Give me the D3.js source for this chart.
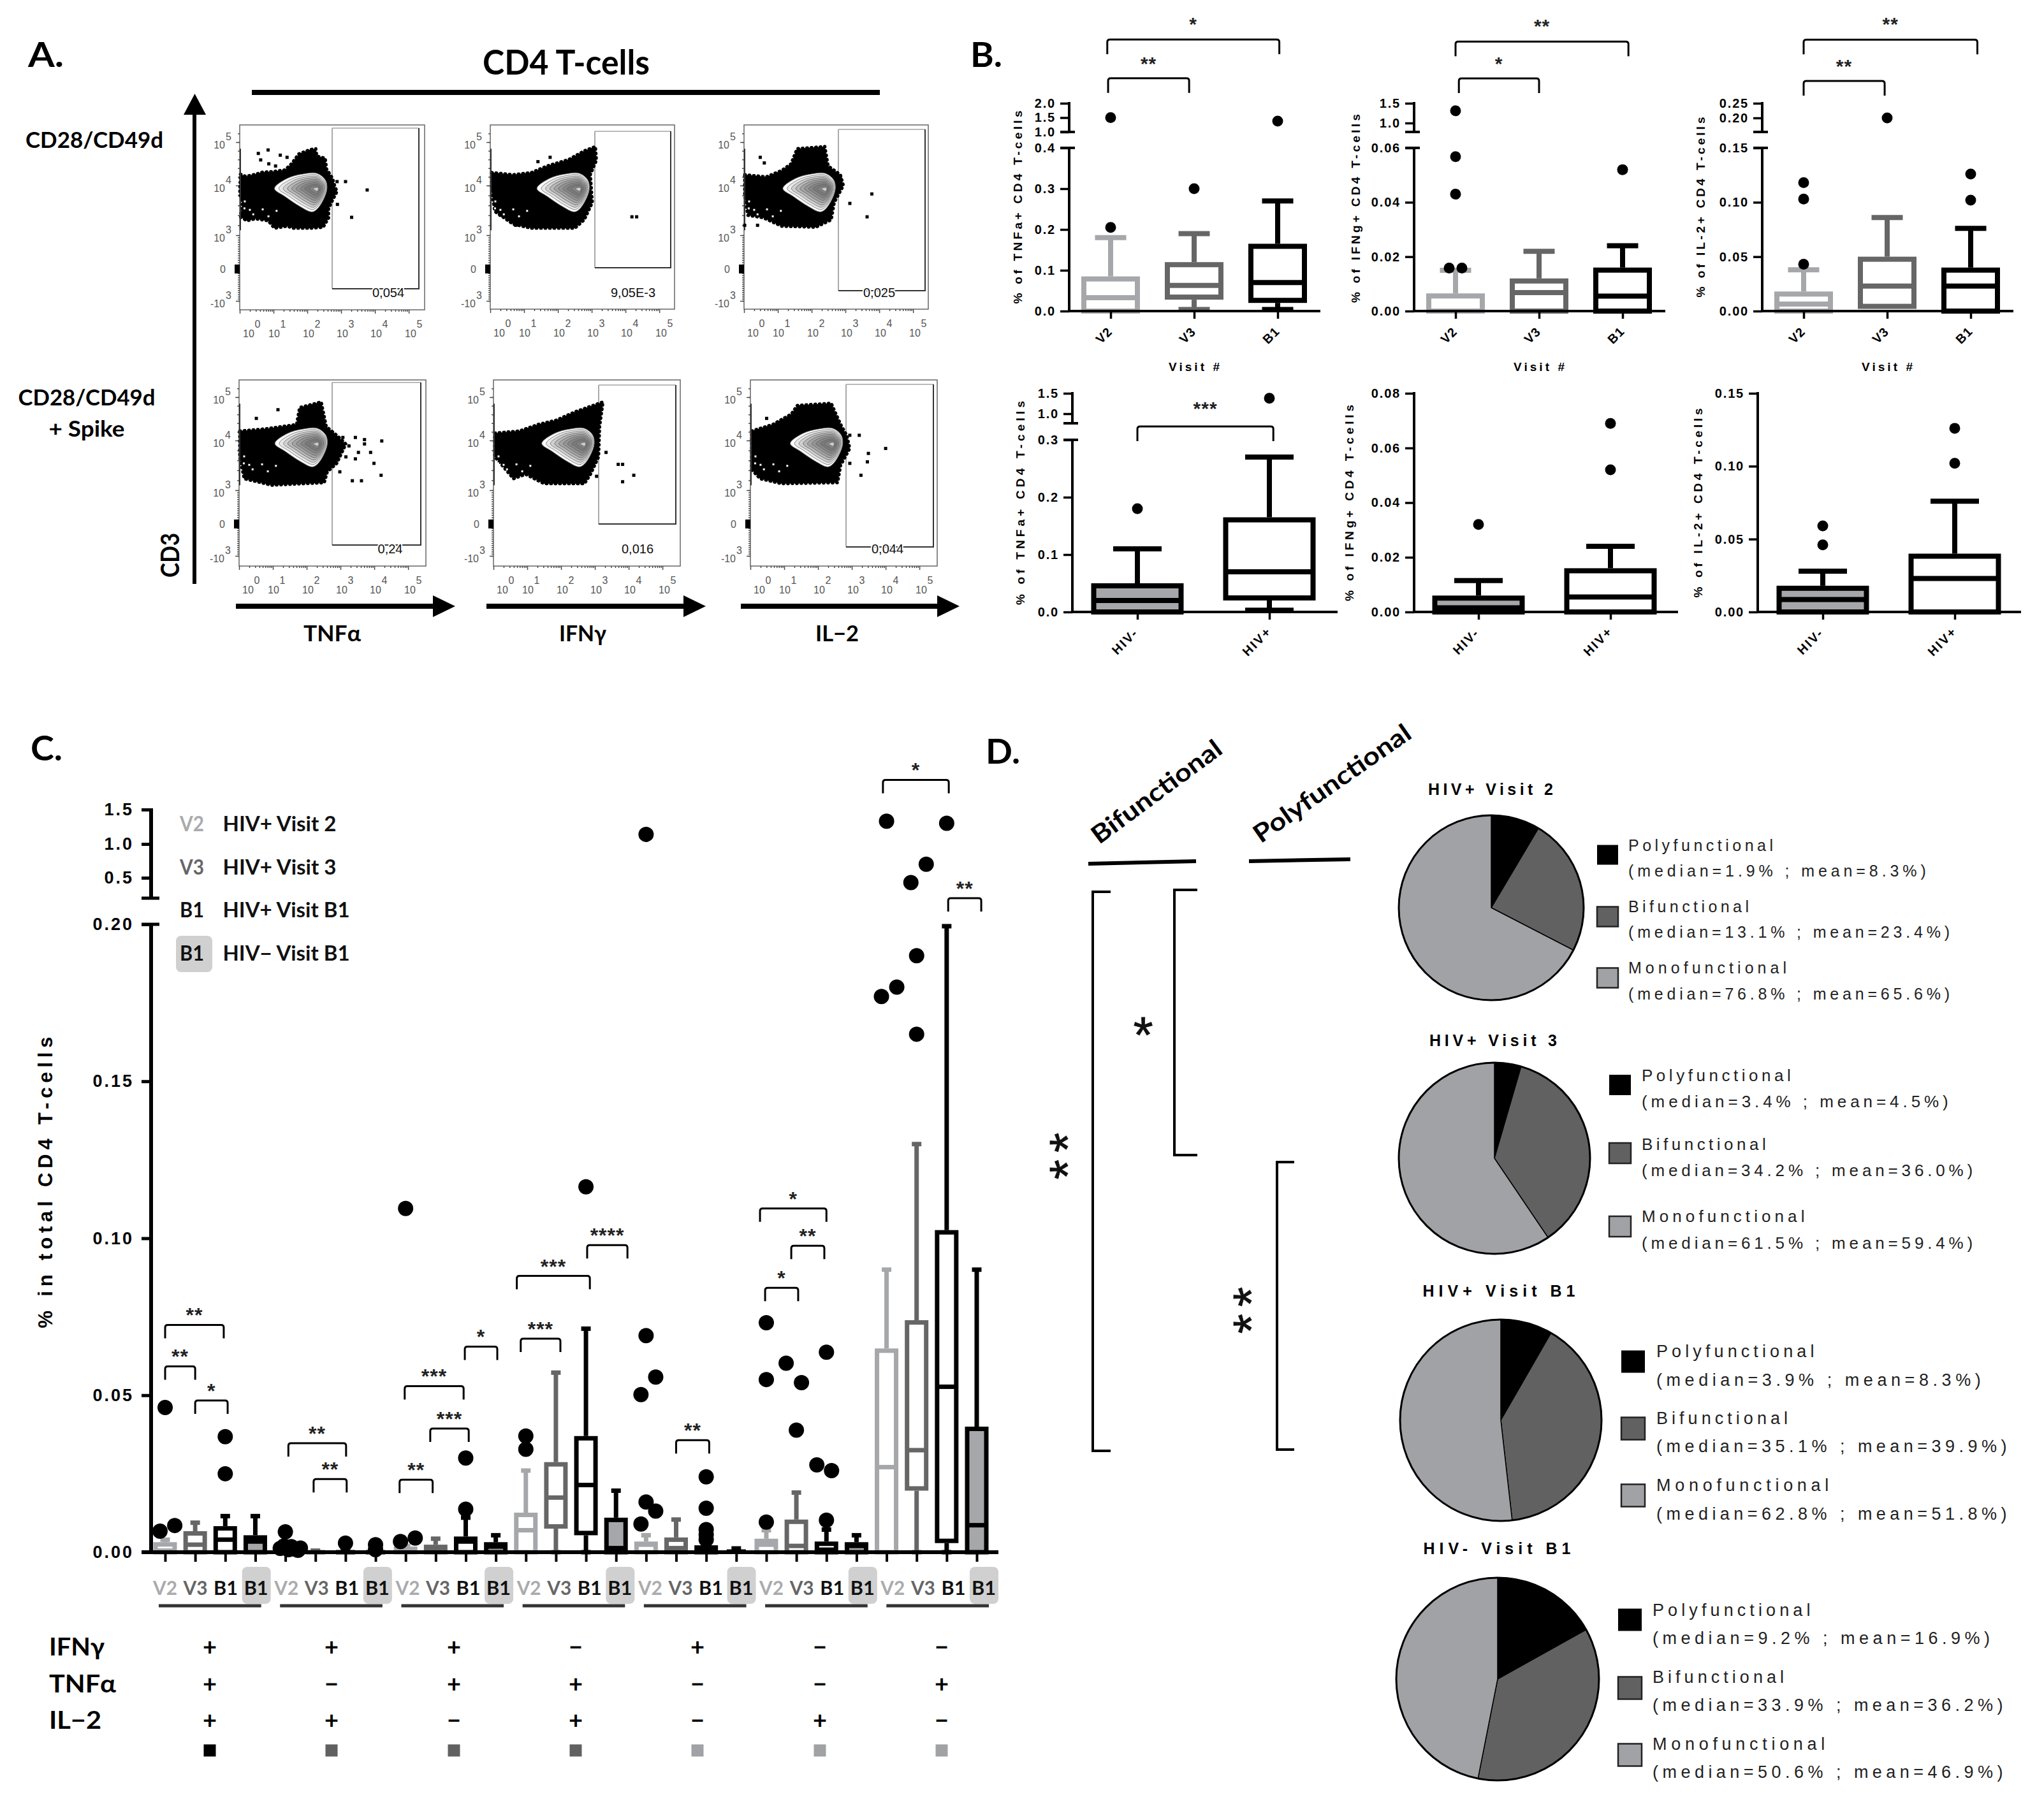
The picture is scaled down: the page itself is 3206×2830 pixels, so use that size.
<!DOCTYPE html>
<html><head><meta charset="utf-8">
<script src="https://cdn.jsdelivr.net/npm/d3@7/dist/d3.min.js"></script>
<style>html,body{margin:0;background:#fff}svg{display:block}</style></head>
<body><svg id="c" width="3206" height="2830" viewBox="0 0 3206 2830"></svg>
<script>
// ===== DATA =====
// Panel A: flow plots, all values in axis units (log decades)
const flowXTicks=[0,1,2,3,4,5];
const flowYTicks=[5,4,3,0,-3];
const flowGateLabels=["0,054","9,05E-3","0,025","0,24","0,016","0,044"];
const flowStimulus=["TNFα","IFNγ","IL−2"];
const cloudR1C1=[[.02,4.26],[.18,4.21],[.46,4.26],[.68,4.31],[.96,4.32],[1.34,4.36],[1.53,4.5],[1.75,4.73],[2.09,4.83],[2.25,4.85],[2.28,4.68],[2.53,4.63],[2.57,4.38],[2.75,4.16],[2.82,3.97],[2.88,3.88],[2.75,3.71],[2.63,3.54],[2.63,3.35],[2.47,3.16],[2.09,3.14],[1.59,3.14],[1.4,3.18],[1.03,3.14],[.84,3.29],[.46,3.33],[.21,3.29],[.02,3.37],[.08,3.63],[0,3.84]];
const cloudR1C2=[[.04,4.3],[.68,4.25],[1.22,4.3],[1.68,4.45],[2.32,4.6],[2.78,4.8],[3.11,4.9],[3.14,4.58],[2.96,4.25],[3.02,3.66],[2.78,3.31],[2.5,3.14],[1.22,3.14],[.68,3.22],[.13,3.48],[.04,3.91]];
const cloudR1C3=[[.02,4.25],[.66,4.2],[1.12,4.35],[1.39,4.5],[1.57,4.85],[2.39,4.9],[2.49,4.45],[2.85,4.25],[2.94,4],[2.67,3.66],[2.58,3.31],[2.12,3.16],[1.12,3.18],[.57,3.35],[.11,3.4],[.02,3.83]];
const cloudR2C1=[[.02,4.22],[.79,4.27],[1.7,4.37],[1.79,4.76],[2.43,4.89],[2.58,4.32],[2.89,4.12],[3.16,3.93],[2.89,3.54],[2.61,3.37],[2.52,3.15],[.97,3.1],[.15,3.23],[.02,3.67]];
const cloudR2C2=[[.04,4.17],[.77,4.22],[1.32,4.37],[1.86,4.47],[2.41,4.66],[3.24,4.89],[3.14,4.32],[3.11,3.67],[2.87,3.32],[2.69,3.13],[1.5,3.13],[.95,3.32],[.59,3.23],[.04,3.67]];
const cloudR2C3=[[.04,4.22],[.66,4.37],[1.21,4.61],[1.39,4.81],[2.39,4.86],[2.67,4.37],[2.85,4.12],[2.94,3.84],[2.67,3.5],[2.58,3.15],[.93,3.13],[.29,3.23],[.04,3.41]];
const eventsR1C1=[[.55,4.74],[.84,4.82],[.62,4.59],[.86,4.5],[1.2,4.7],[1.4,4.65],[1.06,4.45],[2.88,4.09],[3.13,4.09],[3.77,3.91],[2.89,3.62],[3.31,3.36]];
const eventsR1C2=[[4.19,3.37],[4.33,3.37],[1.77,4.65],[1.41,4.55],[.3,3.4],[.75,3.2]];
const eventsR1C3=[[.48,4.65],[.6,4.52],[.02,3.2],[.4,3.2],[2.85,4.18],[3.13,3.64],[3.78,3.83],[3.64,3.37]];
const eventsR2C1=[[3.07,4.07],[3.44,4.07],[3.71,4.02],[4.22,3.99],[3.25,3.89],[3.53,3.76],[3.89,3.76],[3.16,3.67],[3.44,3.63],[3.99,3.54],[3.71,3.93],[2.98,3.37],[3.35,3.19],[3.62,3.19],[4.2,3.3],[.51,4.51],[1.15,4.71]];
const eventsR2C2=[[3.33,3.76],[3.69,3.52],[3.82,3.52],[3.82,3.17],[4.15,3.3],[3.05,3.28]];
const eventsR2C3=[[2.94,4.12],[3.22,4.12],[2.94,3.54],[3.49,3.74],[4,3.84],[3.46,3.57],[3.27,3.3],[.48,4.51]];
const cloudVoids=[[.14,3.54],[.3,3.51],[.68,3.52],[1.09,3.49],[.4,3.42],[.15,3.68],[.85,3.38]];
const contourOutline=[[1.03,3.94],[1.4,4.16],[1.84,4.26],[2.28,4.28],[2.53,4.13],[2.58,3.94],[2.47,3.71],[2.28,3.52],[2.13,3.47],[1.78,3.58],[1.34,3.78]];
const contourPeak=[2.3,3.93];
const contourLevels=[1,.9,.8,.7,.6,.5,.4,.3,.2,.1];
const contourShades=["#ffffff","#e8e8e8","#d0d0d0","#b8b8b8","#a4a4a4","#949494","#868686","#7a7a7a","#828282","#cfcfcf"];
const contourShift=[0,.35,.12,.03,.4,.15];

// Panel B: [low, q1, median, q3, high] per category
const visitCats=["V2","V3","B1"];
const hivCats=["HIV-","HIV+"];
const tnfVisitBox=[[0,0,.033,.085,.18],[.004,.028,.063,.12,.19],[.004,.02,.07,.165,.27]];
const tnfVisitDots=[[.205,1.5],[.3],[1.38]];
const ifnVisitBox=[[0,0,0,.0065,.015],[0,0,.0068,.012,.022],[0,0,.0055,.016,.024]];
const ifnVisitDots=[[.0158,.0158,.043,.0568,1.31],[],[.052]];
const il2VisitBox=[[0,0,.0065,.018,.038],[.002,.002,.023,.05,.086],[0,0,.023,.04,.076]];
const il2VisitDots=[[.043,.103,.118],[.2],[.102,.126]];
const tnfHivBox=[[0,0,.02,.05,.11],[.003,.02,.07,.165,.27]];
const tnfHivDots=[[.18],[1.38]];
const ifnHivBox=[[0,0,.0015,.006,.0115],[0,0,.0055,.016,.024]];
const ifnHivDots=[[.032],[.052,.069]];
const il2HivBox=[[0,0,.0085,.018,.028],[0,0,.023,.04,.076]];
const il2HivDots=[[.046,.059],[.102,.126]];
const tnfVisitTicks=[0,.1,.2,.3,.4,1,1.5,2];
const ifnVisitTicks=[0,.02,.04,.06,1,1.5];
const il2VisitTicks=[0,.05,.1,.15,.2,.25];
const tnfHivTicks=[0,.1,.2,.3,1,1.5];
const ifnHivTicks=[0,.02,.04,.06,.08];
const il2HivTicks=[0,.05,.1,.15];
const visitTitles=["% of TNFa+ CD4 T-cells","% of IFNg+ CD4 T-cells","% of IL-2+ CD4 T-cells"];
// brackets: [from category, to category, level in axis units, stars]
const tnfVisitBrackets=[[-.04,2.02,4.22,"*"],[-.03,.94,2.87,"**"]];
const ifnVisitBrackets=[[0,2.07,3.06,"**"],[.04,1,2.13,"*"]];
const il2VisitBrackets=[[0,2.08,.467,"**"],[0,.97,.326,"**"]];
const tnfHivBrackets=[[0,1.03,.68,"***"]];

// Panel C: [low, q1, median, q3, high]
const cCatLabels=["V2","V3","B1","B1"];
const cGroup1=[[0,0,.0005,.0032,.004],[0,0,.0024,.0067,.0094],[0,0,.004,.0083,.0115],[0,0,.0034,.0054,.0115]];
const cGroup2=[[0,0,0,.0002,.0003],[0,0,0,.0003,.0005],[0,0,0,.0005,.0007],[0,0,0,.0003,.0005]];
const cGroup3=[[0,0,.0005,.0018,.002],[0,0,.0008,.0024,.0043],[0,0,.0034,.005,.011],[0,0,.0018,.0032,.0054]];
const cGroup4=[[0,0,.007,.0126,.026],[0,.0075,.0174,.0287,.0572],[0,.0054,.0214,.037,.0712],[0,0,.0013,.011,.0196]];
const cGroup5=[[0,0,.0024,.0034,.0054],[0,0,.0013,.0047,.0104],[0,0,.0005,.0022,.0022],[0,0,.0002,.0005,.0012]];
const cGroup6=[[0,0,.0024,.0043,.007],[0,0,.002,.0104,.019],[0,0,.0008,.0034,.0072],[0,0,.002,.0032,.0054]];
const cGroup7=[[0,0,.0271,.0649,.09],[0,.0196,.0325,.0739,.13],[0,.0029,.0527,.1026,.1994],[0,0,.0086,.04,.09]];
// outliers: [category position, value]
const cOutliers=[[-.17,.0067],[.32,.0085],[0,.0461],[2,.025],[2,.0368],
 [3.83,.0012],[3.95,.002],[4,.0065],[4.1,.0008],[4.2,.0018],[4.3,.001],[4.42,.0006],[4.5,.0013],[6,.0029],[7,.0024],[7,.0008],
 [7.83,.0034],[8.32,.0045],[8,.1095],[10,.0137],[10,.03],
 [12,.0328],[12,.037],[14,.1164],
 [15.83,.009],[16,.016],[16.32,.0131],[15.83,.0502],[16.32,.0558],[16,.069],[16,1.14],
 [18,.004],[18,.0056],[18,.0072],[18,.014],[18,.024],
 [20,.0096],[20,.055],[20,.0731],[20.66,.0602],[21.17,.054],[21,.0389],[21.68,.0278],[22.17,.026],[22,.0637],[22,.0102],
 [24,1.33],[26,1.3],[25.32,.7],[24.81,.43],[25,.19],[24.34,.18],[23.83,.177],[25,.165]];
const cBrackets=[[0,1.95,.0724,"**"],[0,1,.0592,"**"],[1,2.08,.0483,"*"],
 [4.1,6.02,.0347,"**"],[4.94,6.04,.0233,"**"],
 [7.8,8.9,.0231,"**"],[7.97,9.93,.0529,"***"],[8.82,10.1,.0394,"***"],[9.97,11.05,.0655,"*"],
 [11.83,13.15,.068,"***"],[11.7,14.13,.088,"***"],[14.04,15.38,.0978,"****"],
 [17,18.1,.0357,"**"],
 [19.96,21.06,.0842,"*"],[20.83,21.93,.0976,"**"],[19.79,22,.1095,"*"],
 [23.88,26.07,1.93,"*"],[26.05,27.15,.2001,"**"]];
const cYTicks=[0,.05,.1,.15,.2,.5,1,1.5];
const legendKeys=["V2","V3","B1","B1"];
const legendNames=["HIV+ Visit 2","HIV+ Visit 3","HIV+ Visit B1","HIV− Visit B1"];
const cytokineNames=["IFNγ","TNFα","IL−2"];
const ifnSigns=["+","+","+","−","+","−","−"];
const tnfSigns=["+","−","+","+","−","−","+"];
const il2Signs=["+","+","−","+","−","+","−"];
const functionClass=["poly","bi","bi","bi","mono","mono","mono"];

// Panel D
const pieTitles=["HIV+ Visit 2","HIV+ Visit 3","HIV+ Visit B1","HIV- Visit B1"];
const pieKinds=["Polyfunctional","Bifunctional","Monofunctional"];
const pieMedians=[[1.9,13.1,76.8],[3.4,34.2,61.5],[3.9,35.1,62.8],[9.2,33.9,50.6]];
const pieMeans=[[8.3,23.4,65.6],[4.5,36.0,59.4],[8.3,39.9,51.8],[16.9,36.2,46.9]];

// ===== STYLE / LAYOUT =====
const cal="Lato, sans-serif", ari="'Liberation Sans', Arial, sans-serif";
const C={v2:"#a6a7aa",v3:"#666667",b1:"#000",fill:"#a6a7aa",dark:"#616162",mid:"#a1a2a5"};
const svg=d3.select("#c");
svg.append("rect").attr("width",3206).attr("height",2830).attr("fill","#fff");
function T(p,x,y,s,o={}){
  const t=p.append("text").attr("x",x).attr("y",y).text(s)
    .attr("font-family",o.f||ari).attr("font-size",o.s||20).attr("fill",o.c||"#000")
    .attr("font-weight",o.b===false?400:(o.b?700:400)).attr("text-anchor",o.a||"start");
  if(o.w)t.attr("textLength",o.w).attr("lengthAdjust",o.adj||"spacing");
  if(o.r!=null)t.attr("transform",`rotate(${o.r} ${x} ${y})`);
  return t;
}
function L(p,x1,y1,x2,y2,w,c="#000"){return p.append("line").attr("x1",x1).attr("y1",y1).attr("x2",x2).attr("y2",y2).attr("stroke",c).attr("stroke-width",w);}

// ===== PANEL LETTERS =====
[["A.",44,105,56],["B.",1522,105,50],["C.",48,1193,50],["D.",1546,1198,54]].forEach(d=>T(svg,d[1],d[2],d[0],{f:cal,s:54,b:true,w:d[3],adj:"spacingAndGlyphs"}));

// ===== PANEL A =====
const A=svg.append("g");
T(A,888,117,"CD4 T-cells",{f:cal,s:54,b:true,a:"middle",w:262,adj:"spacingAndGlyphs"});
A.append("rect").attr("x",395).attr("y",141).attr("width",985).attr("height",8);
L(A,305,180,305,916,6);
A.append("path").attr("d","M288 180L305.5 147L323 180Z");
T(A,148,232,"CD28/CD49d",{f:cal,s:35,b:true,a:"middle",w:216,adj:"spacingAndGlyphs"});
T(A,136,636,"CD28/CD49d",{f:cal,s:35,b:true,a:"middle",w:215,adj:"spacingAndGlyphs"});
T(A,136,685,"+ Spike",{f:cal,s:35,b:true,a:"middle",w:119,adj:"spacingAndGlyphs"});
T(A,281,871,"CD3",{f:cal,s:40,b:true,a:"middle",r:-90,w:70,adj:"spacingAndGlyphs"});
[[370,714],[763,1107],[1162,1505]].forEach((a,i)=>{
  L(A,a[0],951,a[1]-35,951,8);
  A.append("path").attr("d",`M${a[1]-35} 934L${a[1]} 951L${a[1]-35} 968Z`);
  const w=[90,74,68][i], cx=[521,914,1313][i];
  T(A,cx,1006,flowStimulus[i],{f:cal,s:35,b:true,a:"middle",w,adj:"spacingAndGlyphs"});
});
const flowFrames=[
 {x:376,y:196,w:290,h:290,g:[521,657,201,453],t:[609,466],cloud:cloudR1C1,ev:eventsR1C1},
 {x:769,y:196,w:289,h:289,g:[933,1052,206,420],t:[993,466],cloud:cloudR1C2,ev:eventsR1C2},
 {x:1167,y:196,w:289,h:289,g:[1315,1451,203,456],t:[1379,466],cloud:cloudR1C3,ev:eventsR1C3},
 {x:375,y:596,w:293,h:292,g:[521,660,600,855],t:[612,868],cloud:cloudR2C1,ev:eventsR2C1},
 {x:774,y:596,w:293,h:292,g:[939,1060,604,822],t:[1000,868],cloud:cloudR2C2,ev:eventsR2C2},
 {x:1177,y:596,w:293,h:292,g:[1327,1464,603,858],t:[1392,868],cloud:cloudR2C3,ev:eventsR2C3}];
const minorDecades=d3.range(0,5).flatMap(d=>d3.range(2,10).map(k=>d+Math.log10(k)));
flowFrames.forEach((f,i)=>{
  const g=A.append("g");
  const x=d3.scaleLinear().domain([0,5.45]).range([f.x,f.x+289]);
  const y=d3.scaleLinear().domain(flowYTicks).range([27,95,173,226,276].map(v=>f.y+v));
  // frame
  g.append("rect").attr("x",f.x).attr("y",f.y).attr("width",f.w).attr("height",f.h).attr("fill","#fff").attr("stroke","#666").attr("stroke-width",1.5);
  // axes
  const ax=g.append("g").attr("transform",`translate(0,${f.y+f.h})`);
  ax.call(d3.axisBottom(x).tickValues(flowXTicks).tickSize(6).tickFormat(""));
  const ax2=g.append("g").attr("transform",`translate(0,${f.y+f.h})`);
  ax2.call(d3.axisBottom(x).tickValues(minorDecades).tickSize(3).tickFormat(""));
  const ay=g.append("g").attr("transform",`translate(${f.x},0)`);
  ay.call(d3.axisLeft(y).tickValues(flowYTicks).tickSize(6).tickFormat(""));
  const ay2=g.append("g").attr("transform",`translate(${f.x},0)`);
  ay2.call(d3.axisLeft(y).tickValues(d3.range(-3,5.4,.2)).tickSize(3).tickFormat(""));
  [ax,ax2,ay,ay2].forEach(a=>{a.select(".domain").remove();a.selectAll("line").attr("stroke","#444").attr("stroke-width",1.4);});
  // gate
  const [a,b,c,d]=f.g;
  g.append("path").attr("d",`M${a} ${c}H${b}`).attr("stroke","#bbb").attr("stroke-width",2).attr("fill","none");
  g.append("path").attr("d",`M${a} ${c}V${d}`).attr("stroke","#aaa").attr("stroke-width",2).attr("fill","none");
  g.append("path").attr("d",`M${b} ${c}V${d}H${a}`).attr("stroke","#333").attr("stroke-width",2).attr("fill","none");
  // dense cloud
  const line=d3.line().x(p=>x(p[0])).y(p=>y(p[1]));
  g.append("path").attr("d",line(f.cloud)+"Z").attr("fill","#000").attr("stroke","#000").attr("stroke-width",5).attr("stroke-linejoin","round").attr("stroke-linecap","round").attr("stroke-dasharray","1 6");
  g.selectAll(null).data(cloudVoids).join("rect").attr("x",p=>x(p[0])-1.5).attr("y",p=>y(p[1])-1.5).attr("width",3).attr("height",3).attr("fill","#fff");
  g.append("path").attr("d",`M${f.x-8} ${y(0)}H${f.x}`).attr("stroke","#000").attr("stroke-width",14);
  L(g,f.x+1,y(3.1),f.x+1,y(4.85),2,"#333");
  // contours
  const cp=[x(contourPeak[0]+contourShift[i]),y(contourPeak[1])];
  const ring=d3.line().curve(d3.curveCatmullRomClosed);
  contourLevels.forEach((k,j)=>{
    const pts=contourOutline.map(p=>{const px=x(p[0]+contourShift[i]),py=y(p[1]);return [cp[0]+(px-cp[0])*k,cp[1]+(py-cp[1])*k];});
    g.append("path").attr("d",ring(pts)).attr("fill",contourShades[j]).attr("stroke",j<3?"#777":"#666").attr("stroke-width",.9);
  });
  // events
  g.selectAll(null).data(f.ev).join("rect").attr("x",p=>x(p[0])-2.5).attr("y",p=>y(p[1])-2.5).attr("width",5).attr("height",5).attr("fill","#000");
  // tick labels
  const gl="#555";
  [14,54,108,161,214,268].forEach((dx,k)=>{
    T(g,f.x+dx,f.y+f.h+43,"10",{s:16,c:gl,a:"middle"});
    T(g,f.x+dx+14,f.y+f.h+28,String(flowXTicks[k]),{s:16,c:gl,a:"middle"});
  });
  flowYTicks.forEach(v=>{
    const py=y(v);
    if(v===0){T(g,f.x-22,py+6,"0",{s:16,c:gl,a:"end"});return;}
    T(g,f.x-23,py+10,(v<0?"-":"")+"10",{s:16,c:gl,a:"end"});
    T(g,f.x-13,py-3,String(Math.abs(v)),{s:16,c:gl,a:"end"});
  });
  // gate value
  T(g,f.t[0],f.t[1],flowGateLabels[i],{s:20,a:"middle",c:"#111"}).attr("stroke","#fff").attr("stroke-width",4).attr("paint-order","stroke");
});

// ===== Shared box plot =====
function box(g,cx,yS,b,o){
  const [lo,q1,med,q3,hi]=b;
  L(g,cx,yS(q3),cx,yS(hi),o.ws,o.col);
  L(g,cx-o.cap/2,yS(hi),cx+o.cap/2,yS(hi),o.cs||o.ws,o.col);
  if(lo<q1){L(g,cx,yS(q1),cx,yS(lo),o.ws,o.col);L(g,cx-o.cap/2,yS(lo),cx+o.cap/2,yS(lo),o.cs||o.ws,o.col);}
  // values were read at the outer edge of the outline, so the stroke sits inside them
  const top=yS(q3)+o.sw/2, bot=q1>0?yS(q1)-o.sw/2:yS(q1);
  g.append("rect").attr("x",cx-o.w/2).attr("width",o.w).attr("y",Math.min(top,bot)).attr("height",Math.max(0,bot-top))
   .attr("fill",o.fill||"#fff").attr("stroke",o.col).attr("stroke-width",o.sw);
  L(g,cx-o.w/2,yS(med),cx+o.w/2,yS(med),o.sw,o.col);
}
function bracket(g,x1,x2,yTop,h,w,label,ls,ly){
  g.append("path").attr("d",`M${x1} ${yTop+h}V${yTop+4}Q${x1} ${yTop} ${x1+4} ${yTop}H${x2-4}Q${x2} ${yTop} ${x2} ${yTop+4}V${yTop+h}`)
   .attr("fill","none").attr("stroke","#000").attr("stroke-width",w);
  T(g,(x1+x2)/2,yTop-ly,label,{s:ls,a:"middle",b:true,c:"#222"}).attr("letter-spacing",1);
}

// ===== PANEL B =====
const bPlots=[
 {ax:1677,right:2071,cats:visitCats,xr:[1742,2004],dom:[0,.4,1,2],rng:[488,232,207,162],ticks:tnfVisitTicks,seg:[[0,.4],[1,2]],brk:[.4,1],fmt:".1f",box:tnfVisitBox,dots:tnfVisitDots,title:visitTitles[0],tx:1603,ty:325,tw:303,br:tnfVisitBrackets,visit:true},
 {ax:2218,right:2612,cats:visitCats,xr:[2283,2545],dom:[0,.06,.8,1,1.5],rng:[488,232,207,193,162],ticks:ifnVisitTicks,seg:[[0,.06],[.8,1.5]],brk:[.06,.8],fmt:v=>v>=1?d3.format(".1f")(v):d3.format(".2f")(v),box:ifnVisitBox,dots:ifnVisitDots,title:visitTitles[1],tx:2133,ty:327,tw:296,br:ifnVisitBrackets,visit:true},
 {ax:2764,right:3158,cats:visitCats,xr:[2829,3091],dom:[0,.15,.165,.2,.25],rng:[488,232,207,185,162],ticks:il2VisitTicks,seg:[[0,.15],[.165,.25]],brk:[.15,.165],fmt:".2f",box:il2VisitBox,dots:il2VisitDots,title:visitTitles[2],tx:2674,ty:325,tw:283,br:il2VisitBrackets,visit:true},
 {ax:1682,right:2098,cats:hivCats,xr:[1784,1991],dom:[0,.3,.77,1,1.5],rng:[960,690,664,649,617],ticks:tnfHivTicks,seg:[[0,.3],[.77,1.5]],brk:[.3,.77],fmt:".1f",box:tnfHivBox,dots:tnfHivDots,title:visitTitles[0],tx:1607,ty:789,tw:320,br:tnfHivBrackets},
 {ax:2218,right:2632,cats:hivCats,xr:[2319,2526],dom:[0,.08],rng:[960,617],ticks:ifnHivTicks,seg:[[0,.08]],brk:[],fmt:".2f",box:ifnHivBox,dots:ifnHivDots,title:visitTitles[1],tx:2123,ty:789,tw:308,br:[]},
 {ax:2757,right:3170,cats:hivCats,xr:[2859,3066],dom:[0,.15],rng:[960,617],ticks:il2HivTicks,seg:[[0,.15]],brk:[],fmt:".2f",box:il2HivBox,dots:il2HivDots,title:visitTitles[2],tx:2670,ty:789,tw:297,br:[]}];
const B=svg.append("g");
bPlots.forEach(p=>{
  const g=B.append("g");
  const y=d3.scaleLinear().domain(p.dom).range(p.rng);
  const x=d3.scalePoint().domain(p.cats).range(p.xr);
  const base=p.rng[0];
  const isVisit=!!p.visit;
  const st={w:isVisit?84:137,cap:isVisit?49:76,ws:8,sw:8};
  const cols=isVisit?[C.v2,C.v3,C.b1]:["#000","#000"];
  p.box.forEach((b,i)=>box(g,x(p.cats[i]),y,b,{...st,col:cols[i],fill:(!isVisit&&i===0)?C.fill:"#fff"}));
  // dots
  p.dots.forEach((ds,i)=>{
    const same=ds.filter(v=>ds.indexOf(v)!==ds.lastIndexOf(v));
    ds.forEach((v,j)=>{
      const off=same.includes(v)?(ds.indexOf(v)===j?-10:10):0;
      g.append("circle").attr("cx",x(p.cats[i])+off).attr("cy",y(v)).attr("r",8.5).attr("fill","#000");
    });
  });
  // axes
  const ya=g.append("g").attr("transform",`translate(${p.ax},0)`)
    .call(d3.axisLeft(y).tickValues(p.ticks).tickSize(14).tickPadding(7).tickFormat(typeof p.fmt==="string"?d3.format(p.fmt):p.fmt));
  ya.select(".domain").remove();
  ya.selectAll("line").attr("stroke","#000").attr("stroke-width",3.5);
  ya.selectAll("text").attr("font-family",ari).attr("font-size",20).attr("font-weight",700).attr("letter-spacing",1.8).attr("fill","#000");
  p.seg.forEach(s=>L(g,p.ax,y(s[0])+2,p.ax,y(s[1])-2,4));
  p.brk.forEach(v=>L(g,p.ax-14,y(v),p.ax+9,y(v),4));
  const xa=g.append("g").attr("transform",`translate(0,${base})`).call(d3.axisBottom(x).tickSize(12));
  xa.select(".domain").remove();
  xa.selectAll("line").attr("stroke","#000").attr("stroke-width",3.5);
  xa.selectAll("text").attr("y",0).attr("dy",".35em").attr("font-family",ari).attr("font-size",20).attr("font-weight",700).attr("letter-spacing",isVisit?1:2.5).attr("fill","#000").attr("text-anchor","middle")
    .attr("transform",isVisit?"translate(-11,38) rotate(-45)":"translate(-20,46) rotate(-45)");
  L(g,p.ax-2,base,p.right,base,4);
  T(g,p.tx,p.ty,p.title,{s:19,b:true,a:"middle",r:-90,w:p.tw});
  if(isVisit)T(g,(p.xr[0]+p.xr[1])/2,582,"Visit #",{s:19,b:true,a:"middle",w:80});
  p.br.forEach(br=>{
    const px=d3.scaleLinear().domain([0,p.cats.length-1]).range(p.xr);
    bracket(g,px(br[0]),px(br[1]),y(br[2]),23,3,br[3],30,isVisit?(br[1]>1.5?14:13):18);
  });
});

// ===== PANEL C =====
const Cg=svg.append("g");
const cY=d3.scaleLinear().domain([0,.2,.2001,.5,1,1.5]).range([2435,1450,1409,1377,1324,1270]);
const cX=d3.scaleLinear().domain([0,27]).range([259,1532]);
const cLabelX=d3.scaleLinear().domain([0,27]).range([259,1543]);
const cGroups=[cGroup1,cGroup2,cGroup3,cGroup4,cGroup5,cGroup6,cGroup7];
const cCols=[C.v2,C.v3,C.b1,C.b1];
cGroups.forEach((grp,gi)=>grp.forEach((b,k)=>{
  box(Cg,cX(gi*4+k),cY,b,{w:30,cap:15,ws:7,sw:7,col:cCols[k],fill:k===3?C.fill:"#fff"});
}));
Cg.selectAll(null).data(cOutliers).join("circle").attr("cx",d=>cX(d[0])).attr("cy",d=>cY(d[1])).attr("r",12).attr("fill","#000");
const cAxisY=Cg.append("g").attr("transform","translate(237,0)")
  .call(d3.axisLeft(cY).tickValues(cYTicks).tickSize(15).tickPadding(12).tickFormat(v=>v>=.5?d3.format(".1f")(v):d3.format(".2f")(v)));
cAxisY.select(".domain").remove();
cAxisY.selectAll("line").attr("stroke","#000").attr("stroke-width",5);
cAxisY.selectAll("text").attr("font-family",ari).attr("font-size",27).attr("font-weight",700).attr("letter-spacing",3).attr("fill","#000");
L(Cg,237,cY(0),237,cY(.2),6);L(Cg,237,cY(.2001),237,cY(1.5)-2,6);
L(Cg,222,cY(.2),250,cY(.2),5);L(Cg,222,cY(.2001),250,cY(.2001),5);
const cAxisX=Cg.append("g").attr("transform","translate(0,2435)").call(d3.axisBottom(cX).tickValues(d3.range(28)).tickSize(15).tickFormat(""));
cAxisX.select(".domain").remove();
cAxisX.selectAll("line").attr("stroke","#000").attr("stroke-width",4);
L(Cg,222,2435,1566,2435,6);
T(Cg,82,1855,"% in total CD4 T-cells",{s:31,b:true,a:"middle",r:-90,w:457});
cBrackets.forEach(b=>bracket(Cg,cX(b[0]),cX(b[1]),cY(b[2]),21,3,b[3],32,b[3]==="*"&&b[2]>1?5:4));
// category labels
cGroups.forEach((g,gi)=>{
  const x0=cLabelX(gi*4),x3=cLabelX(gi*4+3);
  Cg.append("rect").attr("x",x3-22).attr("y",2458).attr("width",45).attr("height",58).attr("rx",8).attr("fill","#d0d0d0");
  cCatLabels.forEach((s,k)=>T(Cg,cLabelX(gi*4+k),2502,s,{f:cal,s:31,b:true,a:"middle",c:[ "#aaabad","#666","#111","#111"][k],w:38,adj:"spacingAndGlyphs"}));
  L(Cg,x0-10,2519,x3+8,2519,5,"#333");
  [ifnSigns,tnfSigns,il2Signs].forEach((r,ri)=>T(Cg,[329,520,712,903,1094,1286,1477][gi],[2597,2655,2712][ri],r[gi],{f:cal,s:38,b:true,a:"middle"}));
  Cg.append("rect").attr("x",[329,520,712,903,1094,1286,1477][gi]-9.5).attr("y",2736.5).attr("width",19).attr("height",19)
    .attr("fill",{poly:"#000",bi:C.dark,mono:C.mid}[functionClass[gi]]);
});
cytokineNames.forEach((s,i)=>T(Cg,77,[2597,2655,2712][i],s,{f:cal,s:38,b:true,w:[87,105,82][i],adj:"spacingAndGlyphs"}));
// legend
legendKeys.forEach((s,i)=>{
  const by=[1304,1372,1439,1507][i];
  if(i===3)Cg.append("rect").attr("x",276).attr("y",1468).attr("width",57).attr("height",57).attr("rx",8).attr("fill","#d0d0d0");
  T(Cg,282,by,s,{f:cal,s:32,b:true,c:["#aaabad","#666","#111","#111"][i],w:38,adj:"spacingAndGlyphs"});
  T(Cg,349.5,by,legendNames[i],{f:cal,s:32,b:true,c:"#111",w:[178,178,199,199][i],adj:"spacingAndGlyphs"});
});

// ===== PANEL D =====
const D=svg.append("g");
T(D,1822,1253,"Bifunctional",{f:cal,s:39,b:true,a:"middle",r:-36.5,w:244,adj:"spacingAndGlyphs"});
T(D,2097,1240,"Polyfunctional",{f:cal,s:39,b:true,a:"middle",r:-35,w:292,adj:"spacingAndGlyphs"});
L(D,1707,1355,1876,1351,6);L(D,1959,1351,2118,1348,6);
[[1714,1742,1399,2276],[1842,1878,1396,1812],[2003,2030,1823,2274]].forEach(b=>{
  D.append("path").attr("d",`M${b[1]} ${b[2]}H${b[0]}V${b[3]}H${b[1]}`).attr("fill","none").attr("stroke","#000").attr("stroke-width",4);
});
T(D,1793,1651,"*",{s:80,a:"middle",c:"#111"}).attr("stroke","#111").attr("stroke-width",.8);
[[1656,1808],[1944,2050]].forEach(s=>T(D,s[0]+46,s[1],"**",{s:80,a:"middle",c:"#111",r:-90}).attr("letter-spacing",11).attr("stroke","#111").attr("stroke-width",.8));
const pieLayout=[
 {cx:2339,cy:1424,r:145,tx:2338,ty:1238,tw:196,sx:2505,ss:33,lx:2554,sy:[1342,1439,1535],ny:[1335,1431,1527],dy:[1375,1471,1568],k:1,fs:25},
 {cx:2344,cy:1817,r:150,tx:2342,ty:1632,tw:200,sx:2524,ss:34,lx:2575,sy:[1703,1810,1925],ny:[1696,1804,1917],dy:[1737,1845,1959],k:1.03,fs:26},
 {cx:2354,cy:2228,r:158,tx:2351,ty:2025,tw:239,sx:2543,ss:37,lx:2598,sy:[2137,2242,2347],ny:[2129,2234,2339],dy:[2174,2278,2384],k:1.09,fs:27},
 {cx:2349,cy:2634,r:159,tx:2348,ty:2429,tw:231,sx:2538,ss:37,lx:2592,sy:[2542,2649,2754],ny:[2535,2640,2745],dy:[2579,2684,2789],k:1.09,fs:27}];
const pieColors=["#000",C.dark,C.mid];
const nameW={Polyfunctional:227,Bifunctional:189,Monofunctional:248};
pieLayout.forEach((p,i)=>{
  const g=D.append("g");
  T(g,p.tx,p.ty+9,pieTitles[i],{s:25,b:true,a:"middle",w:p.tw});
  const arcs=d3.pie().sort(null)(pieMeans[i]);
  const arc=d3.arc().innerRadius(0).outerRadius(p.r);
  const pg=g.append("g").attr("transform",`translate(${p.cx},${p.cy})`);
  pg.selectAll("path").data(arcs).join("path").attr("d",arc).attr("fill",(d,j)=>pieColors[j]).attr("stroke","#000").attr("stroke-width",1.5);
  pg.append("circle").attr("r",p.r).attr("fill","none").attr("stroke","#000").attr("stroke-width",3);
  pieKinds.forEach((n,j)=>{
    g.append("rect").attr("x",p.sx).attr("y",p.sy[j]-p.ss/2).attr("width",p.ss).attr("height",p.ss-2).attr("fill",pieColors[j]).attr("stroke","#222").attr("stroke-width",j?2.5:0);
    T(g,p.lx,p.ny[j],n,{s:p.fs,c:"#222",w:nameW[n]*p.k});
    const str=`(median=${pieMedians[i][j].toFixed(1)}% ; mean=${pieMeans[i][j].toFixed(1)}%)`;
    T(g,p.lx,p.dy[j],str,{s:p.fs,c:"#222",w:str.length*18.67*p.k});
  });
});
</script></body></html>
